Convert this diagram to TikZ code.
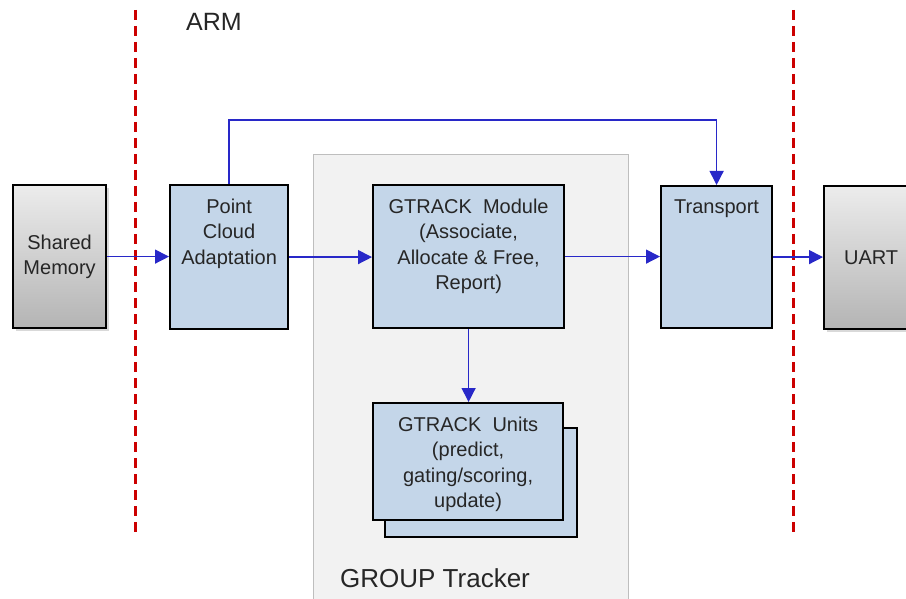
\documentclass[tikz,border=0pt]{standalone}
\usepackage{fontspec}
\setmainfont{Liberation Sans}
\usetikzlibrary{positioning,arrows.meta,shadows}
\definecolor{gtBlue}{RGB}{196,214,233}
\definecolor{gtLine}{RGB}{40,40,200}
\definecolor{gtRed}{RGB}{204,0,0}
\definecolor{gtPanel}{RGB}{242,242,242}
\definecolor{gtPanelEdge}{RGB}{190,190,190}
\definecolor{gtText}{RGB}{38,38,38}
\definecolor{gtMemTop}{RGB}{236,236,236}
\definecolor{gtMemBot}{RGB}{180,180,180}
\tikzset{
  blk/.style={draw=black, line width=2.2pt, fill=gtBlue, anchor=north west, inner sep=0pt},
  memblk/.style={draw=black, line width=2.2pt, top color=gtMemTop, bottom color=gtMemBot,
    anchor=north west, inner sep=0pt, align=center, text=gtText,
    font=\fontsize{20}{25.3}\selectfont,
    drop shadow={opacity=0.3, shadow xshift=3pt, shadow yshift=-3pt}},
  blktext/.style={inner sep=0pt, align=center, text=gtText, font=\fontsize{20}{25.3}\selectfont},
  flow/.style={gtLine, line width=1.4pt, -{Triangle[length=14pt,width=14pt]}},
  zoneline/.style={gtRed, line width=3pt, dash pattern=on 10pt off 6pt},
}

\begin{document}
\begin{tikzpicture}[x=1pt, y=-1pt]
  \useasboundingbox (0,0) rectangle (906,599);

  % GROUP Tracker panel
  \node[draw=gtPanelEdge, fill=gtPanel, line width=1pt, anchor=north west, inner sep=0pt,
        minimum width=315pt, minimum height=470pt] (grp) at (313,154) {};
  \node[font=\fontsize{26}{30}\selectfont, text=gtText] (grplbl) at (435,578) {GROUP Tracker};

  % zone borders
  \draw[zoneline] (135,10) -- (135,532);
  \draw[zoneline] (793,10) -- (793,535);
  \node[font=\fontsize{25}{30}\selectfont, text=gtText] (arm) at (214,22) {ARM};

  % Shared Memory - left
  \node[memblk, minimum width=93pt, minimum height=143pt] (shm) at (12,184) {Shared\\Memory};

  % Point Cloud Adaptation
  \node[blk, minimum width=118pt, minimum height=144pt] (pca) at (169,184) {};
  \node[blktext, below=15pt of pca.north] (pcatxt) {Point\\Cloud\\Adaptation};

  % GTRACK Module
  \node[blk, minimum width=191pt, minimum height=143pt] (gtm) at (372,184) {};
  \node[blktext, below=15pt of gtm.north] (gtmtxt) {GTRACK~ Module\\(Associate,\\Allocate \& Free,\\Report)};

  % GTRACK Units - stacked
  \node[blk, minimum width=192pt, minimum height=109pt] (gtub) at (384,427) {};
  \node[blk, minimum width=190pt, minimum height=117pt] (gtu) at (372,402) {};
  \node[blktext, below=15pt of gtu.north] (gtutxt) {GTRACK~ Units\\(predict,\\gating/scoring,\\update)};

  % Transport
  \node[blk, minimum width=111pt, minimum height=142pt] (tr) at (660,185) {};
  \node[blktext, below=15pt of tr.north] (trtxt) {Transport};

  % UART - right
  \node[memblk, minimum width=94pt, minimum height=143pt] (uart) at (823,185) {UART};

  % data flow
  \draw[flow] (shm.east) -- (shm.east -| pca.west);
  \draw[flow] (pca.east) -- (pca.east -| gtm.west);
  \draw[flow] (gtm.east) -- (gtm.east -| tr.west);
  \draw[flow] (tr.east) -- (tr.east -| uart.west);
  \draw[flow] (gtm.south) -- (gtm.south |- gtu.north);
  \draw[flow] (pca.north) -- ++(0,-64) -| (tr.north);
\end{tikzpicture}
\end{document}
